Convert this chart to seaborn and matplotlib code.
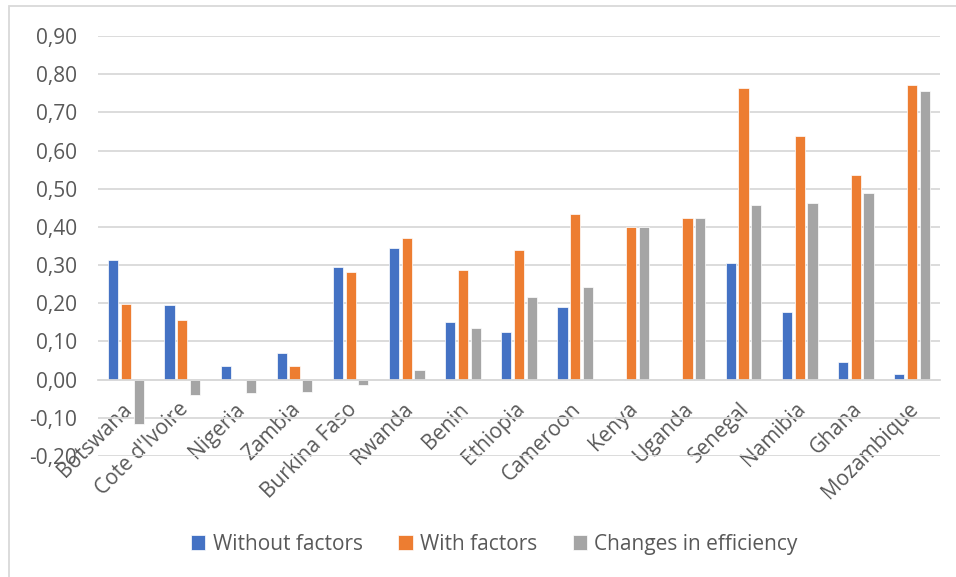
import pandas as pd
import numpy as np
import matplotlib.pyplot as plt
import seaborn as sns
from matplotlib.ticker import FuncFormatter, MultipleLocator
from matplotlib.patches import Rectangle
from matplotlib.transforms import ScaledTranslation

# Data
countries = ["Botswana", "Cote d'Ivoire", "Nigeria", "Zambia", "Burkina Faso", "Rwanda",
             "Benin", "Ethiopia", "Cameroon", "Kenya", "Uganda", "Senegal", "Namibia",
             "Ghana", "Mozambique"]
without_factors = [0.313, 0.196, 0.037, 0.070, 0.296, 0.345, 0.152, 0.124, 0.190,
                   0.000, 0.000, 0.305, 0.177, 0.047, 0.016]
with_factors = [0.197, 0.157, 0.000, 0.037, 0.283, 0.370, 0.287, 0.340, 0.433,
                0.400, 0.424, 0.763, 0.639, 0.537, 0.771]
changes_efficiency = [-0.116, -0.040, -0.036, -0.032, -0.013, 0.025, 0.135, 0.216, 0.242,
                      0.400, 0.424, 0.457, 0.462, 0.490, 0.756]
series_names = ["Without factors", "With factors", "Changes in efficiency"]
colors = ["#4472C4", "#ED7D31", "#A5A5A5"]

df = pd.DataFrame({"country": countries,
                   series_names[0]: without_factors,
                   series_names[1]: with_factors,
                   series_names[2]: changes_efficiency})
long_df = df.melt(id_vars="country", var_name="series", value_name="value")

sns.set_style("white")
plt.rcParams["font.family"] = ["Open Sans", "DejaVu Sans"]
text_color = "#595959"
grid_color = "#D9D9D9"

fig = plt.figure(figsize=(9.56, 5.77), dpi=100)
ax = fig.add_axes([0.1025, 0.2097, 0.8808, 0.7279])

sns.barplot(data=long_df, x="country", y="value", hue="series", hue_order=series_names,
            palette=colors, saturation=1, width=0.68, gap=0.2, edgecolor="white",
            linewidth=0.5, errorbar=None, ax=ax)

handles, labels = ax.get_legend_handles_labels()
ax.legend_.remove()

ax.set_ylim(-0.2, 0.9)
ax.set_xlim(-0.5, len(countries) - 0.5)
ax.yaxis.set_major_locator(MultipleLocator(0.1))
ax.yaxis.set_major_formatter(FuncFormatter(lambda v, p: f"{v:.2f}".replace(".", ",")))
ax.grid(axis="y", color=grid_color, linewidth=1.3)
ax.set_axisbelow(True)

for s in ["top", "right", "left"]:
    ax.spines[s].set_visible(False)
ax.spines["bottom"].set_position(("data", 0))
ax.spines["bottom"].set_color(grid_color)
ax.spines["bottom"].set_linewidth(1.3)

ax.set_xlabel("")
ax.set_ylabel("")
ax.tick_params(axis="both", length=0, labelsize=15, labelcolor=text_color)
ax.tick_params(axis="y", pad=15)
ax.tick_params(axis="x", pad=19)
shift = ScaledTranslation(0.03, 0, fig.dpi_scale_trans)
for lbl in ax.get_xticklabels():
    lbl.set_rotation(45)
    lbl.set_ha("right")
    lbl.set_va("center")
    lbl.set_rotation_mode("anchor")
    lbl.set_transform(lbl.get_transform() + shift)

fig.legend(handles, labels, loc="center", bbox_to_anchor=(0.517, 0.057), ncol=3,
           frameon=False, fontsize=15, labelcolor=text_color, handlelength=0.7,
           handleheight=0.7, handletextpad=0.35, columnspacing=1.7)

# chart frame like the original
fig.patches.append(Rectangle((9 / 956, -0.1), 1.2, 1 - 6 / 577 + 0.1, transform=fig.transFigure,
                             fill=False, edgecolor="#D9D9D9", linewidth=1.3))

fig.savefig("out.png", dpi=100)
